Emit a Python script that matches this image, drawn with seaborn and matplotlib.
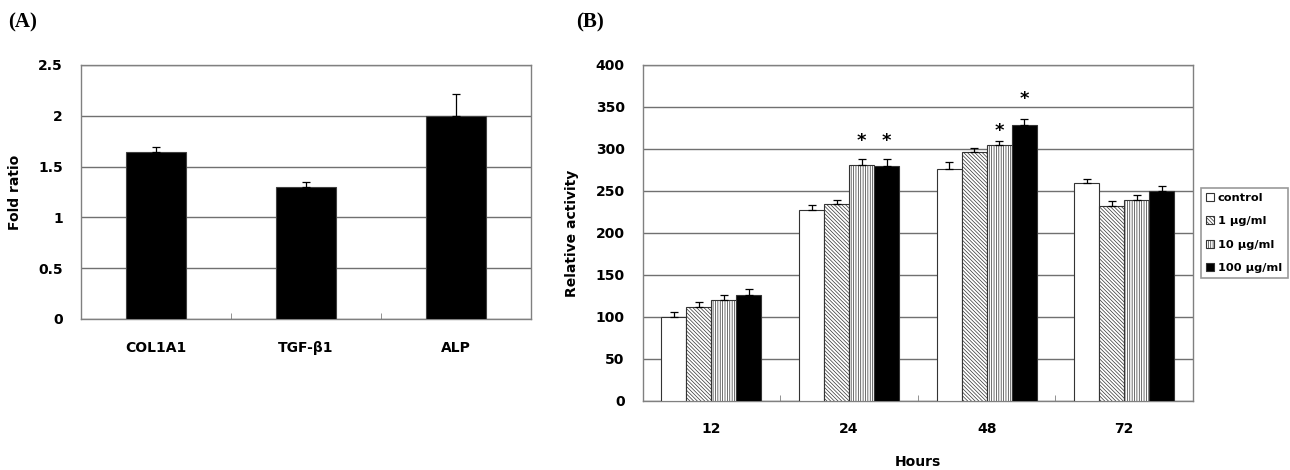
import numpy as np
import pandas as pd
import matplotlib
matplotlib.use("Agg")
import matplotlib.pyplot as plt
import seaborn as sns

# ---------------- data ----------------
genes = ["COL1A1", "TGF-β1", "ALP"]
fold_ratio = [1.64, 1.30, 2.00]
fold_err = [0.05, 0.05, 0.21]
fold_ticks = [0, 0.5, 1, 1.5, 2, 2.5]
fold_ticklabels = ["0", "0.5", "1", "1.5", "2", "2.5"]

hours = ["12", "24", "48", "72"]
doses = ["control", "1 μg/ml", "10 μg/ml", "100 μg/ml"]
act_control = [100, 227, 276, 259]
act_1 = [112, 235, 296, 232]
act_10 = [120, 281, 305, 239]
act_100 = [126, 280, 328, 250]
err_control = [6, 6, 8, 5]
err_1 = [6, 4, 5, 6]
err_10 = [6, 7, 5, 6]
err_100 = [7, 8, 8, 6]
act_ticks = [0, 50, 100, 150, 200, 250, 300, 350, 400]

# significance marks: (hour index, dose index, y of the asterisk)
star_hour = [1, 1, 2, 2]
star_dose = [2, 3, 2, 3]
star_y = [309, 309, 322, 359]

# ---------------- style ----------------
sns.set_style("white")
plt.rcParams["font.family"] = ["DejaVu Sans"]
plt.rcParams["hatch.linewidth"] = 0.5
plt.rcParams["hatch.color"] = "#222222"
for k in ["text.color", "axes.labelcolor", "xtick.color", "ytick.color"]:
    plt.rcParams[k] = "black"

GRID = "#707070"
SPINE = "#808080"

fig = plt.figure(figsize=(12.9, 4.7), dpi=100)
axA = fig.add_axes([81 / 1290, 1 - 319 / 470, 450 / 1290, 254 / 470])
axB = fig.add_axes([642.7 / 1290, 1 - 401 / 470, 550.3 / 1290, 336 / 470])

tick_font = dict(fontsize=10, fontweight="bold")

# ---------------- panel A ----------------
dfA = pd.DataFrame({"gene": genes, "fold": fold_ratio})
sns.barplot(data=dfA, x="gene", y="fold", color="black", width=0.4,
            errorbar=None, edgecolor="#404040", linewidth=0.8,
            saturation=1, ax=axA, zorder=3)
pA = axA.containers[0].patches
xsA = [p.get_x() + p.get_width() / 2 for p in pA]
axA.errorbar(xsA, fold_ratio, yerr=[np.zeros(len(fold_err)), fold_err],
             fmt="none", ecolor="black", elinewidth=0.9, capsize=3,
             capthick=0.9, zorder=4)
axA.set_ylim(0, 2.5)
axA.set_xlim(-0.5, len(genes) - 0.5)
axA.set_yticks(fold_ticks)
axA.set_yticklabels(fold_ticklabels, **tick_font)
axA.set_xticks(range(len(genes)))
axA.set_xticklabels(genes, **tick_font)
axA.set_xticks([0.5, 1.5], minor=True)
axA.set_axisbelow(True)
axA.yaxis.grid(True, color=GRID, linewidth=1)
axA.set_xlabel("")
axA.set_ylabel("Fold ratio", fontsize=10, fontweight="bold", labelpad=12)

# ---------------- panel B ----------------
vals = [act_control, act_1, act_10, act_100]
errs = [err_control, err_1, err_10, err_100]
dfB = pd.DataFrame({
    "Hours": np.repeat([hours], len(doses), axis=0).ravel(),
    "Dose": np.repeat(doses, len(hours)),
    "value": np.concatenate(vals),
})
sns.barplot(data=dfB, x="Hours", y="value", hue="Dose", order=hours,
            hue_order=doses, palette=["white", "white", "white", "black"],
            width=0.727, gap=0, errorbar=None, edgecolor="#333333",
            linewidth=0.8, saturation=1, ax=axB, zorder=3)
hatches = ["", "\\\\\\\\\\\\\\\\\\", "|||||||", ""]
bar_containers = list(axB.containers)
for cont, h in zip(bar_containers, hatches):
    for p in cont.patches:
        p.set_hatch(h)

for i, cont in enumerate(bar_containers):
    xs = [p.get_x() + p.get_width() / 2 for p in cont.patches]
    axB.errorbar(xs, vals[i], yerr=[np.zeros(len(errs[i])), errs[i]],
                 fmt="none", ecolor="black", elinewidth=0.9, capsize=3,
                 capthick=0.9, zorder=4)

for hi, di, sy in zip(star_hour, star_dose, star_y):
    p = bar_containers[di].patches[hi]
    axB.text(p.get_x() + p.get_width() / 2, sy, "*", ha="center",
             va="center", fontsize=13, fontweight="bold", color="black")

axB.set_ylim(0, 400)
axB.set_xlim(-0.5, len(hours) - 0.5)
axB.set_yticks(act_ticks)
axB.set_yticklabels([str(t) for t in act_ticks], **tick_font)
axB.set_xticks(range(len(hours)))
axB.set_xticklabels(hours, **tick_font)
axB.set_xticks([0.5, 1.5, 2.5], minor=True)
axB.set_axisbelow(True)
axB.yaxis.grid(True, color=GRID, linewidth=1)
axB.set_xlabel("Hours", fontsize=10, fontweight="bold", labelpad=14)
axB.set_ylabel("Relative activity", fontsize=10, fontweight="bold",
               labelpad=12)

leg = axB.legend(handles=bar_containers, labels=doses, loc="upper left",
                 bbox_to_anchor=(1.014, 0.635), borderaxespad=0,
                 frameon=True, fancybox=False, edgecolor=SPINE,
                 handlelength=0.7, handleheight=0.7, handletextpad=0.3,
                 labelspacing=1.15, borderpad=0.5,
                 prop=dict(size=8.2, weight="bold"))
leg.get_frame().set_linewidth(1.2)

for ax in (axA, axB):
    for s in ax.spines.values():
        s.set_visible(True)
        s.set_color(SPINE)
        s.set_linewidth(1)
    ax.tick_params(axis="y", which="major", length=0, pad=13)
    ax.tick_params(axis="x", which="major", length=0, pad=15)
    ax.tick_params(axis="x", which="minor", direction="in", length=4,
                   color=SPINE, bottom=True)

axA.tick_params(axis="x", which="major", pad=16)

fig.text(8 / 1290, 1 - 22 / 470, "(A)", fontsize=15, fontweight="bold",
         family=["Liberation Serif", "DejaVu Serif"], va="center", ha="left")
fig.text(576 / 1290, 1 - 22 / 470, "(B)", fontsize=15, fontweight="bold",
         family=["Liberation Serif", "DejaVu Serif"], va="center", ha="left")

fig.savefig("out.png", dpi=100)
